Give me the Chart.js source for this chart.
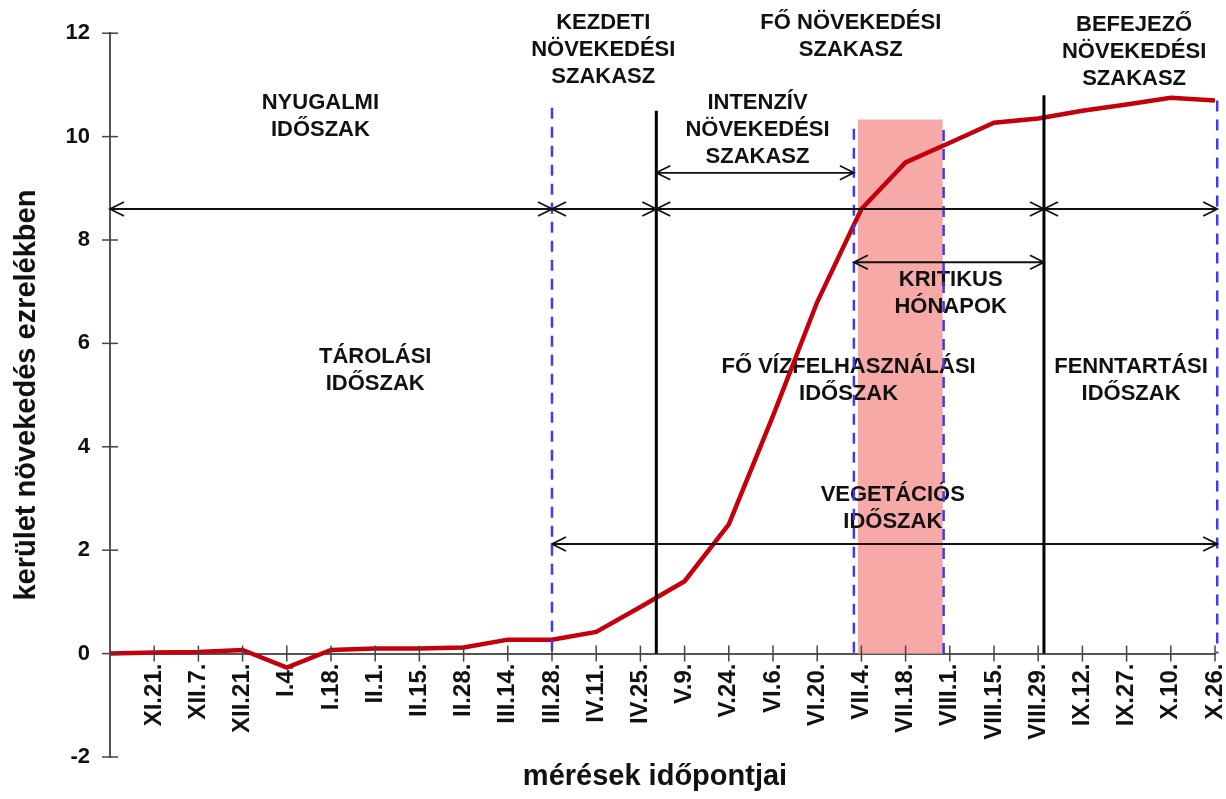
<!DOCTYPE html>
<html>
<head>
<meta charset="utf-8">
<script src="https://cdn.jsdelivr.net/npm/chart.js@4"></script>
<style>
  body { margin: 0; background: #fff; }
  #wrap { width: 1226px; height: 799px; position: relative; }
</style>
</head>
<body>
<div id="wrap"><canvas id="growthChart"></canvas></div>
<script>
// measurement dates (first point sits on the y axis, unlabeled)
const dates = ['', 'XI.21.', 'XII.7.', 'XII.21.', 'I.4.', 'I.18.', 'II.1.', 'II.15.', 'II.28.',
  'III.14.', 'III.28.', 'IV.11.', 'IV.25.', 'V.9.', 'V.24.', 'VI.6.', 'VI.20.', 'VII.4.',
  'VII.18.', 'VIII.1.', 'VIII.15.', 'VIII.29.', 'IX.12.', 'IX.27.', 'X.10.', 'X.26.'];
// circumference growth, per mille
const growth = [0, 0.02, 0.03, 0.07, -0.27, 0.07, 0.1, 0.1, 0.12, 0.27, 0.27, 0.42, 0.9,
  1.4, 2.5, 4.6, 6.8, 8.6, 9.5, 9.88, 10.27, 10.35, 10.5, 10.62, 10.75, 10.7];

// phase boundaries, in category index units
const dashedLines = [[10, 10.56], [16.83, 10.15], [18.86, 10.13], [25.05, 10.7]];
const solidLines = [[12.36, 10.5], [21.13, 10.8]];
const criticalBand = [16.92, 18.84, 10.33];
const arrows = [
  [0, 10, 8.6], [10, 12.36, 8.6], [12.36, 21.13, 8.6], [21.13, 25.05, 8.6],
  [12.36, 16.83, 9.3], [16.83, 21.13, 7.57], [10, 25.05, 2.12]
];
const notes = [
  [4.76, 10.65, ['NYUGALMI', 'IDŐSZAK']],
  [11.16, 12.2, ['KEZDETI', 'NÖVEKEDÉSI', 'SZAKASZ']],
  [16.76, 12.2, ['FŐ NÖVEKEDÉSI', 'SZAKASZ']],
  [14.65, 10.65, ['INTENZÍV', 'NÖVEKEDÉSI', 'SZAKASZ']],
  [23.17, 12.16, ['BEFEJEZŐ', 'NÖVEKEDÉSI', 'SZAKASZ']],
  [19.02, 7.22, ['KRITIKUS', 'HÓNAPOK']],
  [6.0, 5.74, ['TÁROLÁSI', 'IDŐSZAK']],
  [16.71, 5.55, ['FŐ VÍZFELHASZNÁLÁSI', 'IDŐSZAK']],
  [23.1, 5.55, ['FENNTARTÁSI', 'IDŐSZAK']],
  [17.71, 3.06, ['VEGETÁCIÓS', 'IDŐSZAK']]
];

const FONT = 'Arial, "Liberation Sans", sans-serif';

function drawArrow(ctx, x1, x2, y) {
  ctx.beginPath();
  ctx.moveTo(x1, y); ctx.lineTo(x2, y);
  ctx.moveTo(x1 + 14, y - 7); ctx.lineTo(x1, y); ctx.lineTo(x1 + 14, y + 7);
  ctx.moveTo(x2 - 14, y - 7); ctx.lineTo(x2, y); ctx.lineTo(x2 - 14, y + 7);
  ctx.stroke();
}

const phasePlugin = {
  id: 'phases',
  beforeDatasetsDraw(chart) {
    const {ctx, scales: {x, y}} = chart;
    ctx.save();
    // critical months band
    ctx.fillStyle = '#f7a9a8';
    const bx1 = x.getPixelForValue(criticalBand[0]);
    const bx2 = x.getPixelForValue(criticalBand[1]);
    const by = y.getPixelForValue(criticalBand[2]);
    ctx.fillRect(bx1, by, bx2 - bx1, y.getPixelForValue(0) - by);
    // labels
    ctx.fillStyle = '#111';
    ctx.font = 'bold 22px ' + FONT;
    ctx.textAlign = 'center';
    ctx.textBaseline = 'middle';
    notes.forEach(([nx, ny, lines]) => {
      const px = x.getPixelForValue(nx);
      const py = y.getPixelForValue(ny);
      lines.forEach((t, i) => ctx.fillText(t, px, py + i * 27));
    });
    ctx.restore();
  },
  afterDatasetsDraw(chart) {
    const {ctx, scales: {x, y}} = chart;
    const y0 = y.getPixelForValue(0);
    ctx.save();
    ctx.strokeStyle = '#3b3bef';
    ctx.lineWidth = 2.5;
    ctx.setLineDash([11, 8]);
    dashedLines.forEach(([v, top]) => {
      const px = x.getPixelForValue(v);
      ctx.beginPath();
      ctx.moveTo(px, y.getPixelForValue(top));
      ctx.lineTo(px, y0);
      ctx.stroke();
    });
    ctx.setLineDash([]);
    ctx.strokeStyle = '#000';
    ctx.lineWidth = 3;
    solidLines.forEach(([v, top]) => {
      const px = x.getPixelForValue(v);
      ctx.beginPath();
      ctx.moveTo(px, y.getPixelForValue(top));
      ctx.lineTo(px, y0);
      ctx.stroke();
    });
    ctx.lineWidth = 1.8;
    ctx.strokeStyle = '#111';
    arrows.forEach(([a, b, v]) => {
      drawArrow(ctx, x.getPixelForValue(a), x.getPixelForValue(b), y.getPixelForValue(v));
    });
    // crossing tick marks
    ctx.strokeStyle = '#444';
    ctx.lineWidth = 1.5;
    x.ticks.forEach((t, i) => {
      if (i === 0) return;
      const px = x.getPixelForTick(i);
      ctx.beginPath(); ctx.moveTo(px, y0 - 8); ctx.lineTo(px, y0 + 8); ctx.stroke();
    });
    y.ticks.forEach((t, i) => {
      const py = y.getPixelForTick(i);
      ctx.beginPath(); ctx.moveTo(x.left - 8, py); ctx.lineTo(x.left + 8, py); ctx.stroke();
    });
    // x axis title
    ctx.fillStyle = '#111';
    ctx.font = 'bold 29px ' + FONT;
    ctx.textAlign = 'center';
    ctx.textBaseline = 'middle';
    ctx.fillText('mérések időpontjai', 655, 777);
    ctx.restore();
  }
};

const ctx = document.getElementById('growthChart').getContext('2d');
const growthChart = new Chart(ctx, {
  type: 'line',
  data: {
    labels: dates,
    datasets: [{
      label: 'kerület növekedés',
      data: growth,
      borderColor: '#c4000c',
      borderWidth: 4.5,
      pointRadius: 0,
      tension: 0,
      fill: false
    }]
  },
  options: {
    responsive: true,
    maintainAspectRatio: false,
    animation: false,
    layout: { padding: { top: 30, right: 11, bottom: 42, left: 0 } },
    plugins: {
      legend: { display: false },
      tooltip: { enabled: false }
    },
    scales: {
      x: {
        position: { y: 0 },
        offset: false,
        afterFit: (s) => { s.paddingLeft = 0; s.paddingRight = 0; },
        grid: { drawOnChartArea: false, drawTicks: false },
        border: { color: '#555', width: 2 },
        ticks: {
          autoSkip: false,
          minRotation: 90,
          maxRotation: 90,
          padding: 10,
          color: '#111',
          font: { family: FONT, size: 24, weight: 'bold' }
        }
      },
      y: {
        min: -2,
        max: 12,
        afterFit: (s) => { s.width = 110; },
        grid: { drawOnChartArea: false, drawTicks: false },
        border: { color: '#555', width: 2 },
        ticks: {
          stepSize: 2,
          padding: 20,
          color: '#111',
          font: { family: FONT, size: 22, weight: 'bold' }
        },
        title: {
          display: true,
          text: 'kerület növekedés ezrelékben',
          color: '#111',
          padding: { top: 10, bottom: 0 },
          font: { family: FONT, size: 29, weight: 'bold' }
        }
      }
    }
  },
  plugins: [phasePlugin]
});
</script>
</body>
</html>
